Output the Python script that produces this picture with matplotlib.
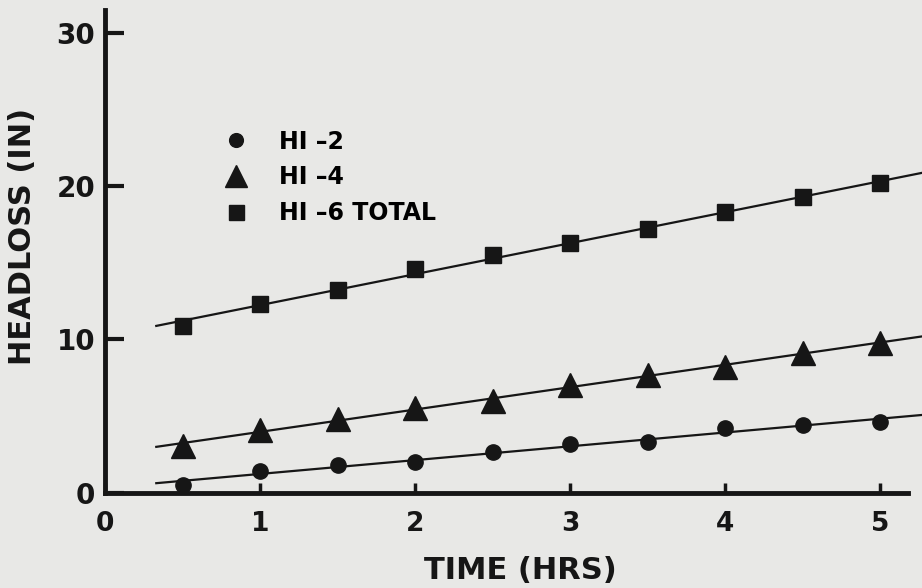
import matplotlib
matplotlib.use("Agg")
import matplotlib.pyplot as plt
import numpy as np

# values
time_hrs = [0.5, 1.0, 1.5, 2.0, 2.5, 3.0, 3.5, 4.0, 4.5, 5.0]
hi2 = [0.5, 1.4, 1.8, 2.0, 2.65, 3.2, 3.3, 4.2, 4.4, 4.6]
hi4 = [3.05, 4.1, 4.8, 5.5, 6.0, 7.0, 7.7, 8.2, 9.1, 9.8]
hi6_total = [10.9, 12.3, 13.2, 14.6, 15.5, 16.3, 17.2, 18.3, 19.3, 20.2]

labels = ["HI \u20132", "HI \u20134", "HI \u20136 TOTAL"]
markers = ["o", "^", "s"]
marker_sizes = [11, 17, 12]
fit_range = [0.33, 5.27]  # hand-drawn fit lines run past the last point

x_ticks = [0, 1, 2, 3, 4, 5]
y_ticks = [0, 10, 20, 30]

paper = "#e8e8e6"
ink = "#161616"

plt.rcParams["font.family"] = ["DejaVu Sans"]
plt.rcParams["font.weight"] = "bold"
plt.rcParams["axes.labelweight"] = "bold"

fig = plt.figure(figsize=(9.22, 5.88), dpi=100, facecolor=paper)
ax = fig.add_axes([0.114, 0.162, 0.871, 0.821])
ax.set_facecolor(paper)

series = [hi2, hi4, hi6_total]
xs = np.array(time_hrs)
fit_x = np.array(fit_range)
handles = []
for ys, m, ms, lab in zip(series, markers, marker_sizes, labels):
    slope, icept = np.polyfit(xs, np.array(ys), 1)
    ax.plot(fit_x, slope * fit_x + icept, color=ink, lw=1.6, clip_on=False, zorder=2)
    h, = ax.plot(xs, ys, linestyle="none", marker=m, ms=ms, color=ink,
                 clip_on=False, zorder=3, label=lab)
    handles.append(h)

ax.set_xlim(0, 5.18)
ax.set_ylim(0, 31.5)
ax.set_xticks(x_ticks)
ax.set_yticks(y_ticks)

for side in ["top", "right"]:
    ax.spines[side].set_visible(False)
for side in ["left", "bottom"]:
    ax.spines[side].set_linewidth(3.5)
    ax.spines[side].set_color(ink)

ax.tick_params(axis="y", direction="in", length=14, width=3, pad=7,
               labelsize=20, colors=ink)
ax.tick_params(axis="x", direction="in", length=7, width=2.5, pad=13,
               labelsize=19, colors=ink)

ax.set_xlabel("TIME (HRS)", fontsize=22, color=ink)
ax.xaxis.set_label_coords(0.517, -0.13)
ax.set_ylabel("HEADLOSS (IN)", fontsize=22, color=ink)
ax.yaxis.set_label_coords(-0.085, 0.53)

leg = ax.legend(handles=handles, loc="upper left", bbox_to_anchor=(0.137, 0.772),
                frameon=False, fontsize=17, handlelength=1.0, handletextpad=1.3,
                labelspacing=0.5, borderaxespad=0, numpoints=1)
for h in leg.legend_handles:
    h.set_markersize(h.get_markersize() * 0.9)

fig.savefig("out.png", dpi=100, facecolor=paper)
